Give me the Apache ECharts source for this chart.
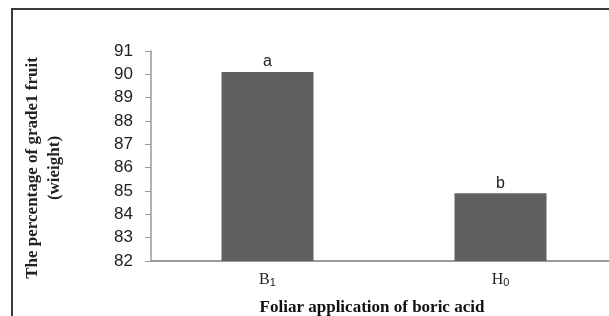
<!DOCTYPE html>
<html>
<head>
<meta charset="utf-8">
<script src="https://cdn.jsdelivr.net/npm/echarts@6/dist/echarts.min.js"></script>
<style>
  html, body { margin: 0; padding: 0; background: #fff; }
  #main { width: 609px; height: 316px; }
</style>
</head>
<body>
<div id="main"></div>
<script>
(function () {
    'use strict';

    // data
    var categories = ['B1', 'H0'];
    var values = [90.1, 84.9];
    var letters = ['a', 'b'];
    var yTicks = [82, 83, 84, 85, 86, 87, 88, 89, 90, 91];

    var myChart = echarts.init(document.getElementById('main'));

    var option = {
        animation: false,
        backgroundColor: '#fff',
        grid: { left: 151, width: 466, top: 51, bottom: 55, containLabel: false, outerBoundsMode: 'none' },
        graphic: [
            {
                type: 'rect',
                shape: { x: 12, y: 9, width: 640, height: 340 },
                style: { fill: 'none', stroke: '#3a3a3a', lineWidth: 2 },
                silent: true
            }
        ],
        xAxis: {
            type: 'category',
            data: categories,
            name: 'Foliar application of boric acid',
            nameLocation: 'middle',
            nameGap: 38,
            nameTextStyle: {
                fontFamily: 'Liberation Serif',
                fontWeight: 'bold',
                fontSize: 17,
                color: '#111',
                padding: [0, 24, 0, 0]
            },
            axisLine: { lineStyle: { color: '#999', width: 2 } },
            axisTick: { show: false },
            axisLabel: {
                margin: 10,
                formatter: function (v) {
                    return '{m|' + v.charAt(0) + '}{s|' + v.slice(1) + '}';
                },
                rich: {
                    m: { fontFamily: 'Liberation Serif', fontSize: 16, color: '#222' },
                    s: { fontFamily: 'Liberation Sans', fontSize: 11, color: '#222', verticalAlign: 'bottom', padding: [6, 0, 0, 0] }
                }
            }
        },
        yAxis: {
            type: 'value',
            min: yTicks[0],
            max: yTicks[yTicks.length - 1],
            interval: 1,
            name: '{t|The percentage of grade1 fruit}\n{t|(wieight)}',
            nameLocation: 'middle',
            nameRotate: 90,
            nameGap: 85,
            nameTextStyle: {
                padding: [0, 0, 0, -24],
                rich: {
                    t: { fontFamily: 'Liberation Serif', fontWeight: 'bold', fontSize: 17, color: '#222', lineHeight: 22, align: 'center' }
                }
            },
            axisLine: { show: true, lineStyle: { color: '#999', width: 1.5 } },
            axisTick: { show: true, length: 6, lineStyle: { color: '#999' } },
            splitLine: { show: false },
            axisLabel: {
                margin: 18,
                fontFamily: 'Liberation Sans',
                fontSize: 17,
                color: '#222'
            }
        },
        series: [
            {
                type: 'bar',
                data: values,
                barWidth: 92,
                itemStyle: { color: '#606060' },
                label: {
                    show: true,
                    position: 'top',
                    distance: 2,
                    fontFamily: 'Liberation Sans',
                    fontSize: 16,
                    color: '#222',
                    formatter: function (p) { return letters[p.dataIndex]; }
                }
            }
        ]
    };

    myChart.setOption(option, true);
}());
</script>
</body>
</html>
